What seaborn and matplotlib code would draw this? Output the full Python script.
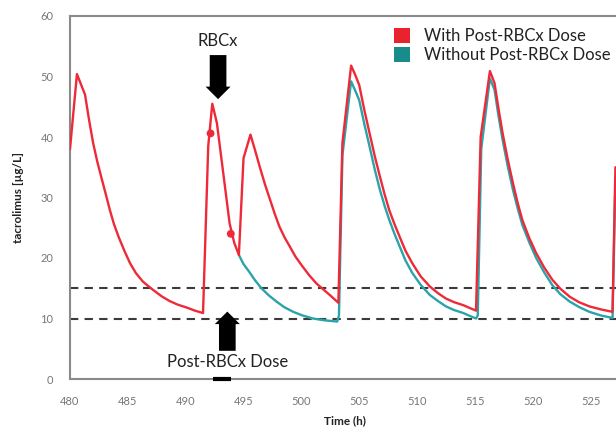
import matplotlib
matplotlib.use("Agg")
import matplotlib.pyplot as plt
import seaborn as sns
import pandas as pd
from matplotlib.patches import Patch

# ---- data ----
with_time = [480.0, 480.6, 481.3, 481.65, 482.0, 482.35, 482.7, 483.1, 483.45, 483.8,
             484.2, 484.7, 485.2, 485.7, 486.3, 486.8, 487.2, 487.9, 488.6, 489.3,
             490.1, 490.8, 491.5, 491.95, 492.3, 492.7, 493.25, 493.8, 494.2, 494.6,
             495.0, 495.6, 496.0, 496.4, 496.85, 497.3, 497.7, 498.1, 498.55, 499.0,
             499.5, 500.1, 500.7, 501.3, 501.9, 502.45, 503.2,
             503.55, 504.3, 504.65, 505.0, 505.45, 505.9, 506.35, 506.8, 507.2, 507.6,
             508.05, 508.5, 509.0, 509.6, 510.3, 511.1, 511.8, 512.5, 513.2, 514.0,
             514.6, 515.1, 515.5, 516.3, 516.7, 517.05, 517.4, 517.85, 518.3, 518.7,
             519.1, 519.7, 520.3, 521.0, 521.7, 522.4, 523.2, 524.0, 524.9, 525.9,
             526.9, 527.15]
with_conc = [38.0, 50.4, 47.0, 42.8, 39.0, 36.0, 33.4, 30.5, 27.9, 25.6,
             23.5, 21.2, 19.1, 17.5, 16.1, 15.3, 14.7, 13.7, 12.9, 12.3,
             11.8, 11.3, 10.9, 38.5, 45.5, 42.3, 34.0, 25.7, 22.5, 20.5,
             36.5, 40.4, 37.8, 35.1, 32.2, 29.6, 27.3, 25.2, 23.4, 21.9,
             20.2, 18.6, 17.1, 15.8, 14.8, 13.9, 12.6,
             39.0, 51.8, 50.3, 48.6, 44.4, 40.6, 36.8, 33.4, 30.5, 27.9,
             25.6, 23.5, 21.2, 19.1, 17.0, 15.3, 14.2, 13.3, 12.7, 12.2,
             11.7, 11.3, 40.0, 50.9, 48.9, 44.6, 40.6, 36.2, 32.3, 29.1,
             26.3, 23.3, 20.8, 18.4, 16.4, 14.9, 13.6, 12.7, 12.0, 11.5,
             11.1, 35.0]

without_time = [494.6, 495.0, 495.5, 496.0, 496.55, 497.2, 497.85, 498.5, 499.3, 500.1,
                501.0, 502.0, 503.1, 503.25, 503.55, 504.3, 504.65, 505.0, 505.45, 505.9,
                506.35, 506.8, 507.2, 507.6, 508.05, 508.5, 509.0, 509.6, 510.3, 511.1,
                511.8, 512.5, 513.2, 514.0, 514.6, 515.1, 515.25, 515.55, 516.3, 516.7,
                517.05, 517.4, 517.85, 518.3, 518.7, 519.1, 519.7, 520.3, 521.0, 521.7,
                522.4, 523.2, 524.0, 524.9, 525.9, 526.9, 527.15]
without_conc = [20.5, 19.0, 17.7, 16.3, 15.0, 13.8, 12.8, 11.9, 11.1, 10.5,
                10.0, 9.7, 9.5, 10.5, 37.0, 49.2, 47.7, 46.1, 42.1, 38.4,
                34.6, 31.2, 28.6, 26.3, 24.0, 21.9, 19.6, 17.5, 15.6, 13.9,
                12.9, 12.0, 11.4, 10.9, 10.4, 10.0, 10.5, 38.0, 49.7, 47.8,
                43.4, 39.5, 35.1, 31.2, 28.2, 25.5, 22.6, 20.0, 17.6, 15.5,
                14.0, 12.8, 11.9, 11.1, 10.5, 10.1, 33.0]

dot_time = [492.15, 493.9]
dot_conc = [40.6, 24.0]

target_levels = [10, 15]
y_ticks = [0, 10, 20, 30, 40, 50, 60]
x_ticks = [480, 485, 490, 495, 500, 505, 510, 515, 520, 525]

series_labels = ["With Post-RBCx Dose", "Without Post-RBCx Dose"]
RED = "#EE2A38"
TEAL = "#2BA3A8"
RED_LEG = "#E8232E"
TEAL_LEG = "#178C8A"

# ---- plot ----
sns.set_style("white")
plt.rcParams["font.family"] = ["Lato", "DejaVu Sans"]

fig = plt.figure(figsize=(6.16, 4.30), dpi=100)
ax = fig.add_axes([70 / 616, 1 - 379 / 430, 1 - 70 / 616, (379 - 16) / 430])

df_w = pd.DataFrame({"t": with_time, "c": with_conc})
df_wo = pd.DataFrame({"t": without_time, "c": without_conc})
df_dot = pd.DataFrame({"t": dot_time, "c": dot_conc})

sns.lineplot(data=df_wo, x="t", y="c", ax=ax, color=TEAL, lw=1.7, estimator=None, sort=False, zorder=3)
sns.lineplot(data=df_w, x="t", y="c", ax=ax, color=RED, lw=1.7, estimator=None, sort=False, zorder=4)
sns.scatterplot(data=df_dot, x="t", y="c", ax=ax, color=RED, s=32, edgecolor="none", zorder=5)

for lv in target_levels:
    ax.axhline(lv, color="#3a3a3a", lw=1.5, ls=(0, (4, 3)), zorder=2)

ax.set_xlim(480, 527.2)
ax.set_ylim(0, 60)
ax.set_xticks(x_ticks)
ax.set_yticks(y_ticks)
ax.tick_params(axis="both", colors="#8a8a8a", labelsize=8, length=4, width=1, direction="out")
for lab in ax.get_xticklabels() + ax.get_yticklabels():
    lab.set_color("#777777")
ax.tick_params(axis="y", pad=8)
ax.tick_params(axis="x", pad=8)

for side in ["left", "bottom", "top"]:
    ax.spines[side].set_color("#8a8a8a")
    ax.spines[side].set_linewidth(1.5)
ax.spines["right"].set_visible(False)

ax.set_xlabel("Time (h)", fontsize=8.5, fontweight="bold", color="#222222", labelpad=2)
ax.set_ylabel("tacrolimus [\u00b5g/L]", fontsize=8.5, fontweight="bold", color="#222222", labelpad=12)
ax.xaxis.set_label_coords((345 - 70) / 546, -0.1)

# annotations
arrow_style = "simple,head_width=1.8,tail_width=1.2,head_length=0.9"
ax.annotate("", xy=(492.8, 45.8), xytext=(492.8, 54.0),
            arrowprops=dict(arrowstyle=arrow_style, color="black", lw=0), zorder=6)
ax.text(492.8, 55.9, "RBCx", ha="center", va="center", fontsize=12, color="#222222")
ax.annotate("", xy=(493.6, 11.6), xytext=(493.6, 4.2),
            arrowprops=dict(arrowstyle=arrow_style, color="black", lw=0), zorder=6)
ax.text(493.6, 2.8, "Post-RBCx Dose", ha="center", va="center", fontsize=12, color="#222222")
ax.plot([492.4, 493.9], [0, 0], color="black", lw=3, solid_capstyle="butt", clip_on=False, zorder=6)

# legend
handles = [Patch(facecolor=RED_LEG, edgecolor="none"), Patch(facecolor=TEAL_LEG, edgecolor="none")]
ax.legend(handles, series_labels, loc="upper left", bbox_to_anchor=((382 - 70) / 546, 1.0),
          frameon=False, fontsize=12, handlelength=1.0, handleheight=1.0, handletextpad=0.8,
          labelspacing=0.2, borderaxespad=0.3, labelcolor="#222222")

fig.savefig("out.png", dpi=100)
